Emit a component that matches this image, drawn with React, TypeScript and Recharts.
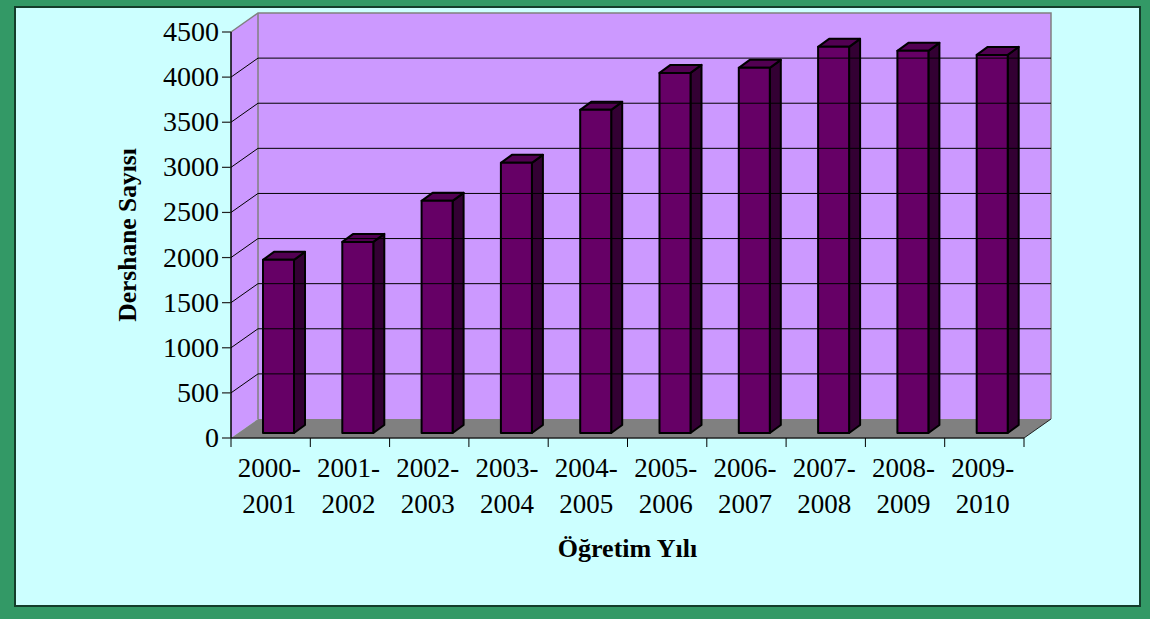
import React from 'react';
import { BarChart, Bar, XAxis, YAxis, ReferenceArea, ReferenceLine } from 'recharts';

const years = ['2000-2001','2001-2002','2002-2003','2003-2004','2004-2005','2005-2006','2006-2007','2007-2008','2008-2009','2009-2010'];
const counts = [1919,2118,2573,2994,3582,3991,4047,4280,4236,4191];
const yTicks = [0,500,1000,1500,2000,2500,3000,3500,4000,4500];
const rows = years.map((year, i) => ({ year, count: counts[i] }));

const W = 1150, H = 619;
const DX = 27, DY = -19;
const BAR_SHIFT_X = 8, BAR_SHIFT_Y = -5, BAR_DX = 11, BAR_DY = -8;
const FONT = '"Liberation Serif", "Times New Roman", serif';
const TICK_SIZE = 27;
const TITLE_SIZE = 25.5;
const BAND = (1024 - 231) / years.length;

const Walls = (p: any) => {
  const { x, y, width: w, height: h } = p;
  const l = x, r = x + w, t = y, b = y + h;
  return (
    <g>
      <polygon points={`${l},${b} ${l},${t} ${l + DX},${t + DY} ${l + DX},${b + DY}`} fill="#CC99FF" />
      <rect x={l + DX} y={t + DY} width={w} height={h} fill="#CC99FF" />
      <polygon points={`${l},${b} ${l + DX},${b + DY} ${r + DX},${b + DY} ${r},${b}`} fill="#808080" />
      <polyline points={`${l},${t} ${l + DX},${t + DY} ${r + DX},${t + DY} ${r + DX},${b + DY}`} fill="none" stroke="#808080" strokeWidth={1.5} />
      <line x1={l + DX} y1={t + DY} x2={l + DX} y2={b + DY} stroke="#808080" strokeWidth={1.5} />
      <line x1={r} y1={b} x2={r + DX} y2={b + DY} stroke="#222" strokeWidth={1} />
    </g>
  );
};

const GridLine3D = (p: any) => {
  const { x1, y1, x2, y2 } = p;
  return (
    <g>
      <line x1={x1} y1={y1} x2={x1 + DX} y2={y1 + DY} stroke="#000" strokeWidth={1} />
      <line x1={x1 + DX} y1={y1 + DY} x2={x2 + DX} y2={y2 + DY} stroke="#000" strokeWidth={1} />
    </g>
  );
};

const Bar3D = (p: any) => {
  const x = p.x + BAR_SHIFT_X, y = p.y + BAR_SHIFT_Y, w = p.width, h = p.height;
  return (
    <g stroke="#000" strokeWidth={2} strokeLinejoin="round">
      <polygon points={`${x + w},${y} ${x + w + BAR_DX},${y + BAR_DY} ${x + w + BAR_DX},${y + h + BAR_DY} ${x + w},${y + h}`} fill="#330033" />
      <polygon points={`${x},${y} ${x + BAR_DX},${y + BAR_DY} ${x + w + BAR_DX},${y + BAR_DY} ${x + w},${y}`} fill="#520052" />
      <rect x={x} y={y} width={w} height={h} fill="#660066" />
    </g>
  );
};

const XTick = (p: any) => {
  const { x, y, payload, index } = p;
  const [a, b] = String(payload.value).split('-');
  const left = x - BAND / 2;
  return (
    <g>
      <line x1={left} y1={y - 8} x2={left} y2={y + 1} stroke="#000" strokeWidth={1} />
      {index === years.length - 1 && <line x1={left + BAND} y1={y - 8} x2={left + BAND} y2={y + 1} stroke="#000" strokeWidth={1} />}
      <text textAnchor="middle" fontFamily={FONT} fontSize={TICK_SIZE} fill="#000">
        <tspan x={x - 1.5} y={y + 31}>{a}-</tspan>
        <tspan x={x - 1.5} y={y + 67}>{b}</tspan>
      </text>
    </g>
  );
};

const YTick = (p: any) => (
  <text x={p.x - 1} y={p.y + 9} textAnchor="end" fontFamily={FONT} fontSize={28} fill="#000">{p.payload.value}</text>
);

export default function App() {
  return (
    <div style={{ position: 'absolute', left: 0, top: 0, width: W, height: H, background: '#339966', overflow: 'hidden' }}>
      <div style={{ position: 'absolute', left: 14, top: 6, width: 1123, height: 597, background: '#CCFFFF', border: '2px solid #143d2b' }} />
      <div style={{ position: 'absolute', left: 0, top: 0 }}>
        <BarChart width={W} height={H} data={rows} margin={{ top: 32, right: 126, bottom: 0, left: 0 }} barSize={31}>
          <ReferenceArea y1={0} y2={4500} shape={Walls} />
          {yTicks.slice(1, -1).map(v => (
            <ReferenceLine key={v} y={v} shape={GridLine3D} />
          ))}
          <XAxis dataKey="year" height={181} interval={0} tickLine={false} axisLine={{ stroke: '#222', strokeWidth: 1.5 }} tick={XTick}
            label={{ value: 'Öğretim Yılı', position: 'insideBottom', offset: 62, fontFamily: FONT, fontSize: 26, fontWeight: 700, fill: '#000' }} />
          <YAxis width={231} domain={[0, 4500]} ticks={yTicks} interval={0} tickLine={{ stroke: '#222', strokeWidth: 1.2 }} tickSize={9} tickMargin={2} axisLine={{ stroke: '#000', strokeWidth: 1.5 }}
            tick={YTick}
            label={{ value: 'Dershane Sayısı', angle: -90, position: 'center', dx: 11, fontFamily: FONT, fontSize: TITLE_SIZE, fontWeight: 700, fill: '#000' }} />
          <Bar dataKey="count" isAnimationActive={false} shape={Bar3D} />
        </BarChart>
      </div>
    </div>
  );
}
